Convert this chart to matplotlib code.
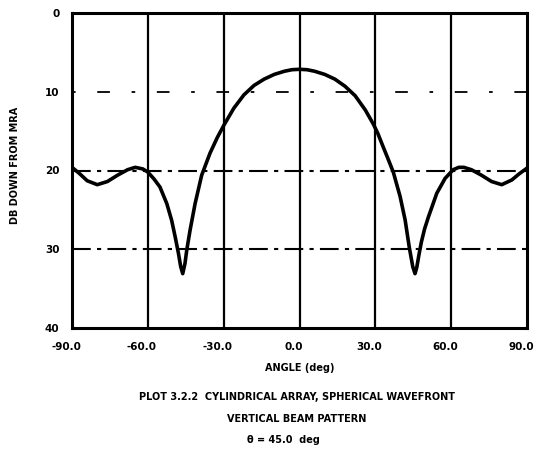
import matplotlib
matplotlib.use("Agg")
import matplotlib.pyplot as plt
import matplotlib.transforms as mtransforms

angles = [-90, -87, -84, -80, -76, -72, -68, -65, -62, -60, -57.5, -55.2, -52.5, -50.6,
          -49.2, -47.9, -47.0, -46.2, -45.3, -44.6, -43.3, -41.3, -38.7, -35.4, -32.5,
          -30, -26, -22, -18, -14, -10, -6, -3, 0, 3, 6, 10, 14, 18, 22, 26, 29.2, 31,
          33.1, 35, 37.1, 39.8, 41.8, 43.4, 44.8, 45.7, 46.4, 47.2, 48.2, 49.5, 51.0,
          54.3, 57.6, 60.8, 63, 65, 68, 72, 76, 80, 84, 87, 90]
db_down = [19.6, 20.4, 21.3, 21.8, 21.4, 20.6, 19.9, 19.6, 19.8, 20.2, 21.1, 22.1, 24.2,
           26.3, 28.4, 30.5, 32.2, 33.1, 31.8, 30.1, 27.6, 24.2, 20.6, 17.8, 15.8,
           14.3, 12.1, 10.4, 9.2, 8.4, 7.8, 7.4, 7.2, 7.15, 7.2, 7.4, 7.8, 8.4, 9.3, 10.5,
           12.3, 14.1, 15.3, 17.0, 18.5, 20.2, 23.3, 26.3, 29.7, 32.2, 33.1, 32.3, 30.8,
           29.1, 27.4, 25.9, 22.9, 21.0, 19.9, 19.6, 19.6, 19.9, 20.6, 21.4, 21.8, 21.2,
           20.4, 19.7]

x_ticks = [-90, -60, -30, 0, 30, 60, 90]
x_labels = ["-90.0", "-60.0", "-30.0", "0.0", "30.0", "60.0", "90.0"]
y_ticks = [0, 10, 20, 30, 40]
y_labels = ["0", "10", "20", "30", "40"]

fig = plt.figure(figsize=(5.35, 4.51), dpi=100)
ax = fig.add_axes([72/535, 1-328/451, 455/535, 315/451])

# vertical grid lines
for xv in x_ticks[1:-1]:
    ax.axvline(xv, color="black", lw=1.6, zorder=1)
# horizontal dash-dot grid lines
ax.axhline(10, color="black", lw=1.3, dashes=(2, 12, 7, 12), zorder=1)
for yv in (20, 30):
    ax.axhline(yv, color="black", lw=1.5, dashes=(9, 3, 2, 3), zorder=1)

ax.plot(angles, db_down, color="black", lw=2.6, zorder=3,
        solid_capstyle="round", solid_joinstyle="round")

ax.set_xlim(-90, 90)
ax.set_ylim(40, 0)
ax.set_xticks(x_ticks)
ax.set_xticklabels(x_labels)
ax.set_yticks(y_ticks)
ax.set_yticklabels(y_labels)
ax.tick_params(axis="x", length=0, pad=10, labelsize=7.5)
ax.tick_params(axis="y", length=0, pad=9, labelsize=7.5)
shift = mtransforms.ScaledTranslation(-6/100, 0, fig.dpi_scale_trans)
for lab in ax.get_xticklabels():
    lab.set_fontweight("bold")
    lab.set_transform(lab.get_transform() + shift)
for lab in ax.get_yticklabels():
    lab.set_fontweight("bold")
for s in ax.spines.values():
    s.set_linewidth(2.2)

fig.text(15/535, 1-165/451, "DB DOWN FROM MRA", rotation=90, ha="center", va="center",
         fontsize=7, fontweight="bold")
fig.text(300/535, 1-368/451, "ANGLE (deg)", ha="center", va="center",
         fontsize=7, fontweight="bold")
fig.text(297/535, 1-397/451, "PLOT 3.2.2  CYLINDRICAL ARRAY, SPHERICAL WAVEFRONT",
         ha="center", va="center", fontsize=7, fontweight="bold")
fig.text(297/535, 1-419/451, "VERTICAL BEAM PATTERN", ha="center", va="center",
         fontsize=7, fontweight="bold")
fig.text(283/535, 1-440/451, "θ = 45.0  deg", ha="center", va="center",
         fontsize=7, fontweight="bold")

fig.savefig("out.png", dpi=100)
